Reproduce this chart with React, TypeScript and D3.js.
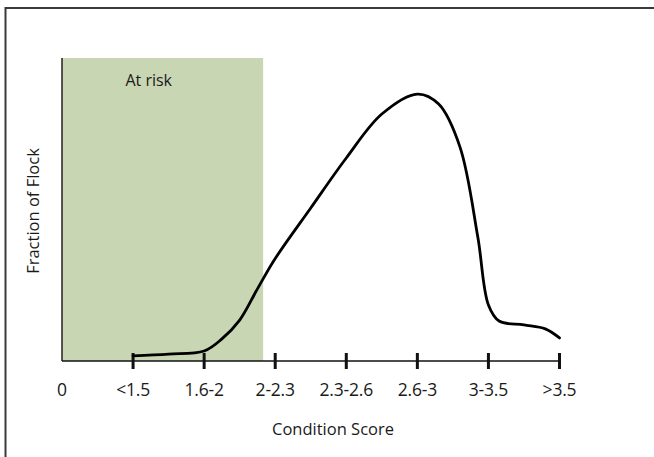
import React, { useEffect, useRef } from 'react'
import * as d3 from 'd3'

// category tick labels (position 0 is the origin)
const tickLabels = ['0', '<1.5', '1.6-2', '2-2.3', '2.3-2.6', '2.6-3', '3-3.5', '>3.5']
const tickPositions = [1, 2, 3, 4, 5, 6, 7]

// curve: position on the category axis, fraction of flock
const curveX = [1, 1.5, 2, 2.25, 2.5, 2.75, 3, 3.5, 4, 4.5, 5, 5.3, 5.6, 5.85, 6, 6.15, 6.5, 6.8, 7]
const curveY = [0.017, 0.023, 0.033, 0.073, 0.135, 0.238, 0.338, 0.505, 0.67, 0.815, 0.881, 0.848, 0.706, 0.41, 0.185, 0.132, 0.119, 0.106, 0.076]

// shaded band
const riskBand = [0, 2.83]
const riskLabel = 'At risk'

const FONT = '"Open Sans", sans-serif'

const App: React.FC = () => {
    const svgRef = useRef<SVGSVGElement | null>(null)

    useEffect(() => {
        if (!svgRef.current) return
        const width = 654
        const height = 457
        const margin = { top: 58, right: 95, bottom: 96, left: 62 }

        const svg = d3.select(svgRef.current)
        svg.selectAll('*').remove()

        const x = d3.scaleLinear().domain([0, 7]).range([margin.left, width - margin.right + 0.5])
        const y = d3.scaleLinear().domain([0, 1]).range([height - margin.bottom, margin.top])

        // outer frame
        svg.append('path')
            .attr('d', `M5.5,${height} V8 H${width}`)
            .attr('fill', 'none')
            .attr('stroke', '#3a3a3a')
            .attr('stroke-width', 2)

        // at risk band
        svg.append('rect')
            .attr('x', x(riskBand[0]))
            .attr('y', y(1))
            .attr('width', x(riskBand[1]) - x(riskBand[0]))
            .attr('height', y(0) - y(1))
            .attr('fill', '#c8d6b3')

        svg.append('text')
            .attr('x', x(1.22))
            .attr('y', 86)
            .attr('text-anchor', 'middle')
            .attr('font-family', FONT)
            .attr('font-size', 16)
            .attr('font-weight', 500)
            .attr('fill', '#1a1a1a')
            .text(riskLabel)

        // y axis line
        svg.append('line')
            .attr('x1', x(0)).attr('x2', x(0))
            .attr('y1', y(1)).attr('y2', y(0))
            .attr('stroke', '#222').attr('stroke-width', 1.5)

        // x axis line
        svg.append('line')
            .attr('x1', x(0)).attr('x2', x(7))
            .attr('y1', y(0)).attr('y2', y(0))
            .attr('stroke', '#111').attr('stroke-width', 1.5)

        // ticks
        svg.append('g')
            .selectAll('line')
            .data(tickPositions)
            .join('line')
            .attr('x1', (d) => x(d)).attr('x2', (d) => x(d))
            .attr('y1', y(0) - 8).attr('y2', y(0) + 8)
            .attr('stroke', '#111')
            .attr('stroke-width', 3)

        // tick labels
        svg.append('g')
            .selectAll('text')
            .data(tickLabels)
            .join('text')
            .attr('x', (_, i) => x(i))
            .attr('y', 396)
            .attr('text-anchor', 'middle')
            .attr('font-family', FONT)
            .attr('font-size', 17.5)
            .attr('font-weight', 500)
            .attr('letter-spacing', -0.2)
            .attr('fill', '#1a1a1a')
            .text((d) => d)

        // axis titles
        svg.append('text')
            .attr('x', 333)
            .attr('y', 435)
            .attr('text-anchor', 'middle')
            .attr('font-family', FONT)
            .attr('font-size', 16.5)
            .attr('font-weight', 500)
            .attr('fill', '#1a1a1a')
            .text('Condition Score')

        svg.append('text')
            .attr('transform', `translate(39,${211}) rotate(-90)`)
            .attr('text-anchor', 'middle')
            .attr('font-family', FONT)
            .attr('font-size', 16.5)
            .attr('font-weight', 500)
            .attr('fill', '#1a1a1a')
            .text('Fraction of Flock')

        // curve
        const pts: [number, number][] = curveX.map((v, i) => [v, curveY[i]])
        const line = d3
            .line<[number, number]>()
            .x((d) => x(d[0]))
            .y((d) => y(d[1]))
            .curve(d3.curveCatmullRom.alpha(0.5))

        svg.append('path')
            .datum(pts)
            .attr('fill', 'none')
            .attr('stroke', '#000')
            .attr('stroke-width', 2.8)
            .attr('stroke-linecap', 'round')
            .attr('d', line)
    }, [])

    return (
        <svg
            ref={svgRef}
            width={654}
            height={457}
            style={{ position: 'absolute', left: 0, top: 0, background: '#fff' }}
        ></svg>
    )
}

export default App
